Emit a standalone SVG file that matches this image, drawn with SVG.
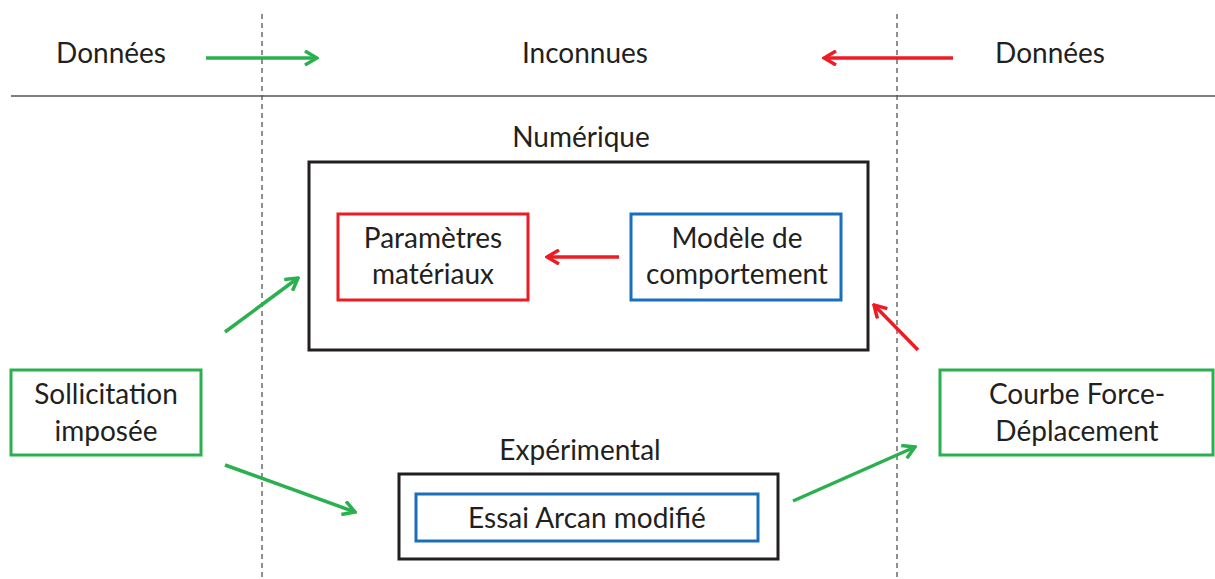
<svg xmlns="http://www.w3.org/2000/svg" width="1215" height="579" viewBox="0 0 1215 579">
<style>
text{font-family:Lato,"Open Sans","Liberation Sans",sans-serif;font-size:28px;fill:#231f20;text-anchor:middle}
.box{fill:none;stroke-width:3}
.k{stroke:#231f20}
.g{stroke:#2bb04f}
.r{stroke:#ed1c24}
.b{stroke:#1a6fbd}
.ag{stroke:#2bb04f;stroke-width:3.5;fill:none}
.ar{stroke:#ed1c24;stroke-width:3.5;fill:none}
</style>
<defs>
<marker id="mg" viewBox="-14 -8 16 16" markerWidth="16" markerHeight="16" refX="0" refY="0" orient="auto" markerUnits="userSpaceOnUse">
<path d="M-12,-7 L0,0 L-12,7" fill="none" stroke="#2bb04f" stroke-width="3.5"/>
</marker>
<marker id="mr" viewBox="-14 -8 16 16" markerWidth="16" markerHeight="16" refX="0" refY="0" orient="auto" markerUnits="userSpaceOnUse">
<path d="M-12,-7 L0,0 L-12,7" fill="none" stroke="#ed1c24" stroke-width="3.5"/>
</marker>
</defs>
<rect width="1215" height="579" fill="#fff"/>
<g id="guides">
<line x1="262" y1="14" x2="262" y2="579" stroke="#231f20" stroke-width="1" stroke-dasharray="5,4"/>
<line x1="897" y1="14" x2="897" y2="579" stroke="#231f20" stroke-width="1" stroke-dasharray="5,4"/>
<line x1="11" y1="96" x2="1215" y2="96" stroke="#555" stroke-width="1.5"/>
</g>
<g id="headers">
<text x="111" y="63">Données</text>
<text x="585" y="63">Inconnues</text>
<text x="1050" y="63">Données</text>
</g>
<g id="numerique">
<text x="581" y="147">Numérique</text>
<rect class="box k" x="309" y="162" width="559" height="188"/>
</g>
<g id="parametres">
<rect class="box r" x="338" y="214" width="190" height="86"/>
<text x="433" y="248">Paramètres</text>
<text x="433" y="284">matériaux</text>
</g>
<g id="modele">
<rect class="box b" x="631" y="214" width="210" height="86"/>
<text x="737" y="248">Modèle de</text>
<text x="737" y="284">comportement</text>
</g>
<g id="sollicitation">
<rect class="box g" x="11" y="370" width="190" height="85"/>
<text x="106" y="404">Sollicitation</text>
<text x="106" y="441">imposée</text>
</g>
<g id="experimental">
<text x="580" y="460">Expérimental</text>
<rect class="box k" x="399" y="474" width="379" height="85"/>
</g>
<g id="essai">
<rect class="box b" x="416" y="494" width="342" height="47"/>
<text x="587" y="528">Essai Arcan modifié</text>
</g>
<g id="courbe">
<rect class="box g" x="940" y="370" width="273" height="85"/>
<text x="1077" y="404">Courbe Force-</text>
<text x="1077" y="441">Déplacement</text>
</g>
<g id="connectors">
<line class="ag" x1="206" y1="58" x2="317" y2="58" marker-end="url(#mg)"/>
<line class="ar" x1="953" y1="58" x2="824" y2="58" marker-end="url(#mr)"/>
<line class="ar" x1="619" y1="257" x2="547" y2="257" marker-end="url(#mr)"/>
<line class="ag" x1="225" y1="332" x2="298" y2="278" marker-end="url(#mg)"/>
<line class="ag" x1="225" y1="465" x2="355" y2="512" marker-end="url(#mg)"/>
<line class="ar" x1="918" y1="350" x2="874" y2="305" marker-end="url(#mr)"/>
<line class="ag" x1="793" y1="501" x2="915" y2="447" marker-end="url(#mg)"/>
</g>
</svg>
